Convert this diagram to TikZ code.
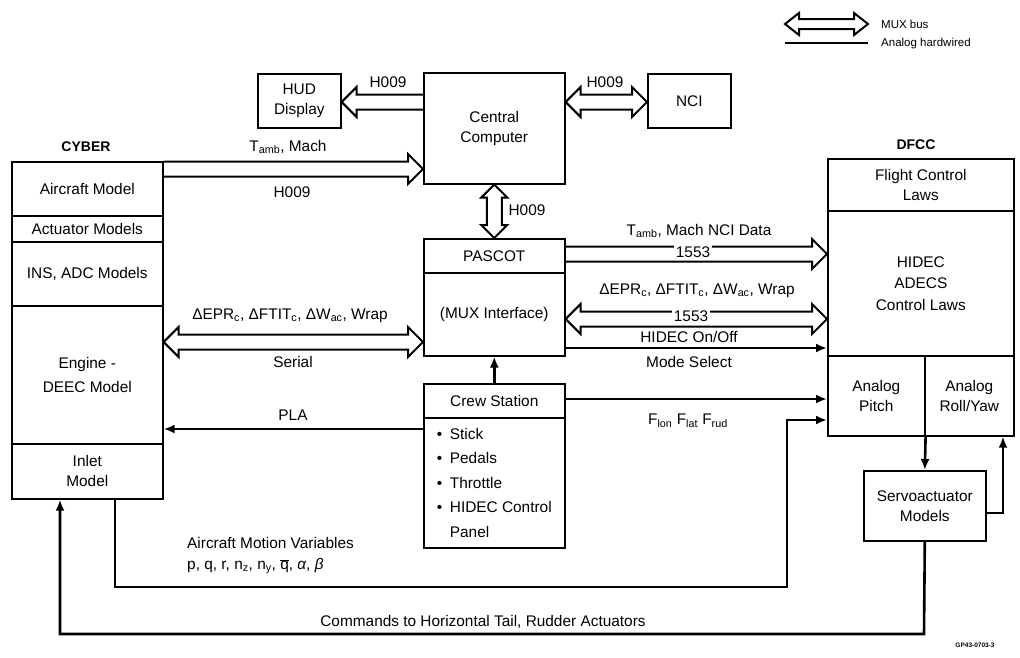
\documentclass[tikz,border=0pt]{standalone}
\usepackage{fontspec}
\setmainfont{Liberation Sans}
\usetikzlibrary{calc,arrows.meta}
\def\msw{7.5pt}
\def\mhw{15pt}
\def\mhl{15pt}
% single-headed MUX bus arrow, head at #2
\newcommand\muxone[2]{%
  \coordinate (mA) at (#1);
  \coordinate (mB) at (#2);
  \coordinate (mHb) at ($(mB)!\mhl!(mA)$);
  \draw[mux] ($(mA)!\msw!90:(mB)$) -- ($(mHb)!\msw!90:(mB)$) -- ($(mHb)!\mhw!90:(mB)$) -- (mB)
    -- ($(mHb)!\mhw!-90:(mB)$) -- ($(mHb)!\msw!-90:(mB)$) -- ($(mA)!\msw!-90:(mB)$);}
% double-headed MUX bus arrow
\newcommand\muxtwo[2]{%
  \coordinate (mA) at (#1);
  \coordinate (mB) at (#2);
  \coordinate (mHa) at ($(mA)!\mhl!(mB)$);
  \coordinate (mHb) at ($(mB)!\mhl!(mA)$);
  \draw[mux] (mA) -- ($(mHa)!\mhw!90:(mB)$) -- ($(mHa)!\msw!90:(mB)$) -- ($(mHb)!\msw!90:(mB)$)
    -- ($(mHb)!\mhw!90:(mB)$) -- (mB) -- ($(mHb)!\mhw!-90:(mB)$) -- ($(mHb)!\msw!-90:(mB)$)
    -- ($(mHa)!\msw!-90:(mB)$) -- ($(mHa)!\mhw!-90:(mB)$) -- cycle;}
\begin{document}
\begin{tikzpicture}[x=1pt,y=-1pt,
  font=\fontsize{15.4}{20}\selectfont,
  box/.style={draw, line width=1.6pt, anchor=north west, inner sep=0pt, align=center},
  mux/.style={draw, line width=2pt, line join=miter},
  analog/.style={draw, line width=2.6pt, -{Latex[length=11pt,width=9pt]}},
  wire/.style={draw, line width=2.4pt},
  title/.style={font=\bfseries\fontsize{14}{18}\selectfont},
  lbl/.style={inner sep=1pt},
  onbus/.style={fill=white, inner sep=1.5pt}]
\useasboundingbox (0,0) rectangle (1020,657);

% ---------------- boxes ----------------
\node[box, minimum width=83, minimum height=54] (hud) at (257,73) {HUD\\Display};
\node[box, minimum width=141, minimum height=111] (cc) at (423,72) {Central\\Computer};
\node[box, minimum width=83, minimum height=54] (nci) at (647,73) {NCI};

\node[title] (cybertitle) at (86,147) {CYBER};
\node[box, minimum width=151, minimum height=54] (cyb1) at (11,161) {Aircraft Model};
\node[box, minimum width=151, minimum height=26] (cyb2) at (11,215) {Actuator Models};
\node[box, minimum width=151, minimum height=64] (cyb3) at (11,241) {INS, ADC Models};
\node[box, minimum width=151, minimum height=138] (cyb4) at (11,305) {Engine -\\[4pt]DEEC Model};
\node[box, minimum width=151, minimum height=55] (cyb5) at (11,443) {Inlet\\Model};

\node[box, minimum width=141, minimum height=34] (pasc1) at (423,238) {PASCOT};
\node[box, minimum width=141, minimum height=83] (pasc2) at (423,272) {(MUX Interface)};

\node[box, minimum width=141, minimum height=34] (crew1) at (423,383) {Crew Station};
\node[box, minimum width=141, minimum height=130, font=\fontsize{15.4}{24.5}\selectfont, align=left] (crew2) at (423,417)
  {\makebox[13pt][l]{•}Stick\\\makebox[13pt][l]{•}Pedals\\\makebox[13pt][l]{•}Throttle\\\makebox[13pt][l]{•}HIDEC Control\\\hspace*{13pt}Panel};

\node[title] (dfcctitle) at (916,145) {DFCC};
\node[box, minimum width=186, minimum height=52] (fcl) at (827,158) {Flight Control\\Laws};
\node[box, minimum width=186, minimum height=145, font=\fontsize{15.4}{21.5}\selectfont] (hidec) at (827,210) {HIDEC\\ADECS\\Control Laws};
\node[box, minimum width=97, minimum height=80] (pitch) at (827,355) {Analog\\Pitch};
\node[box, minimum width=89, minimum height=80] (roll) at (924,355) {Analog\\Roll/Yaw};
\node[box, minimum width=122, minimum height=70] (servo) at (863,470) {Servoactuator\\Models};

% ---------------- MUX bus connectors ----------------
\muxone{cc.west |- 0,102}{hud.east |- 0,102}
\muxtwo{cc.east |- 0,102}{nci.west |- 0,102}
\muxone{cyb1.east |- 0,169}{cc.west |- 0,169}
{\def\mhw{13pt}\def\mhl{13pt}\muxtwo{cc.south}{pasc1.north}}
\muxone{pasc1.east |- 0,254}{hidec.west |- 0,254}
\muxtwo{pasc2.east |- 0,319}{hidec.west |- 0,319}
\muxtwo{cyb4.east |- 0,342}{pasc2.west |- 0,342}

% ---------------- analog connectors ----------------
\draw[analog] (pasc2.east |- 0,348) -- (hidec.west |- 0,348);
\draw[analog] (crew1.north) -- (pasc2.south);
\draw[analog] (crew2.west |- 0,429) -- (cyb4.east |- 0,429);
\draw[analog] (crew1.east |- 0,399) -- (pitch.west |- 0,399);
\draw[analog] (cyb5.south -| 115,0) -- (115,587) -- (787,587) -- (787,420) -- (pitch.west |- 0,420);
\draw[analog] (servo.south) -- (924,634) -- (60,634) -- (cyb5.south -| 60,0);
\draw[analog] (pitch.south east) -- (servo.north);
\draw[analog] (servo.east |- 0,513) -- (1003,513) -- (roll.south -| 1003,0);

% ---------------- labels ----------------
\node[lbl] (l1) at (388,82) {H009};
\node[lbl] (l2) at (605,82) {H009};
\node[lbl] (l3) at (288,147) {T\textsubscript{amb}, Mach};
\node[lbl] (l4) at (292,192) {H009};
\node[lbl] (l5) at (527,210) {H009};
\node[lbl] (l6) at (699,231) {T\textsubscript{amb}, Mach NCI Data};
\node[onbus] (l7) at (693,252) {1553};
\node[lbl] (l8) at (697,291) {ΔEPR\textsubscript{c}, ΔFTIT\textsubscript{c}, ΔW\textsubscript{ac}, Wrap};
\node[onbus] (l9) at (691,316) {1553};
\node[lbl] (l10) at (689,337) {HIDEC On/Off};
\node[lbl] (l11) at (689,362) {Mode Select};
\node[lbl] (l12) at (290,316) {ΔEPR\textsubscript{c}, ΔFTIT\textsubscript{c}, ΔW\textsubscript{ac}, Wrap};
\node[lbl] (l13) at (293,362) {Serial};
\node[lbl] (l14) at (293,415) {PLA};
\node[lbl] (l15) at (688,421) {F\textsubscript{lon} F\textsubscript{lat} F\textsubscript{rud}};
\node[lbl, anchor=west] (l16) at (186,543) {Aircraft Motion Variables};
\node[lbl, anchor=west] (l17) at (186,566) {p, q, r, n\textsubscript{z}, n\textsubscript{y}, $\overline{\mbox{q}}$, \textit{α}, \textit{β}};
\node[lbl] (l18) at (483,622) {Commands to Horizontal Tail, Rudder Actuators};
\node[lbl, font=\bfseries\fontsize{6.5}{8}\selectfont] (gp) at (975,645) {GP43-0703-3};

% ---------------- legend ----------------
\coordinate (lgA) at (785,24);
\coordinate (lgB) at (868,24);
\coordinate (lgC) at (785,43);
\coordinate (lgD) at (868,43);
{\def\msw{5pt}\def\mhw{11pt}\def\mhl{14pt}\muxtwo{lgA}{lgB}}
\draw[wire] (lgC) -- (lgD);
\node[lbl, anchor=west, font=\fontsize{11.5}{14}\selectfont] (lgmux) at (880,24) {MUX bus};
\node[lbl, anchor=west, font=\fontsize{11.5}{14}\selectfont] (lgana) at (880,44) {Analog hardwired};
\end{tikzpicture}
\end{document}
